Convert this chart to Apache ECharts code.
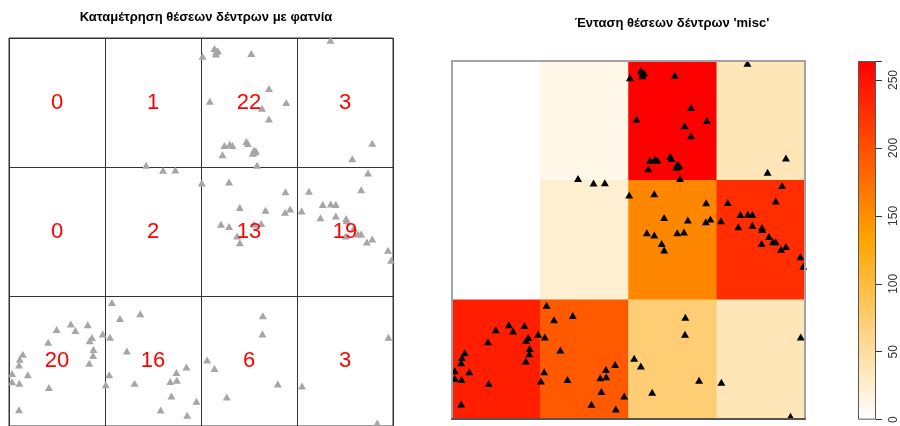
<!DOCTYPE html>
<html>
<head>
<meta charset="utf-8">
<script src="https://cdn.jsdelivr.net/npm/echarts@6/dist/echarts.min.js"></script>
<style>html,body{margin:0;padding:0;background:#fff}#c{width:900px;height:426px}</style>
</head>
<body>
<div id="c"></div>
<script>
// Quadrat counts (rows from top to bottom, columns from left to right)
const quadratCounts = [
  [0, 1, 22, 3],
  [0, 2, 13, 19],
  [20, 16, 6, 3]
];
const nCols = 4, nRows = 3;
const windowArea = 1; // unit square window
const colourbarTicks = [0, 50, 100, 150, 200, 250];
const titleLeft = 'Καταμέτρηση θέσεων δέντρων με φατνία';
const titleRight = "Ένταση θέσεων δέντρων 'misc'";

// Tree locations in the unit window
const treeX = [
  0.504,0.535,0.544,0.539,0.631,0.677,0.523,0.722,0.659,0.677,0.561,0.575,0.582,0.618,0.622,0.638,0.643,0.635,0.556,0.646,0.540,0.640,
  0.837,0.946,0.894,
  0.357,
  0.401,0.433,
  0.502,0.573,0.720,0.601,0.668,0.719,0.732,0.552,0.573,0.638,0.657,0.594,0.601,
  0.935,0.917,0.781,0.817,0.838,0.851,0.762,0.811,0.851,0.878,0.879,0.898,0.877,0.909,0.917,0.932,0.946,0.987,0.995,
  0.124,0.161,0.173,0.205,0.216,0.210,0.102,0.220,0.219,0.209,0.036,0.028,0.026,0.008,0.049,0.008,0.027,0.104,0.026,0.244,
  0.268,0.342,0.289,0.263,0.307,0.261,0.252,0.327,0.462,0.436,0.420,0.437,0.423,0.488,0.395,0.464,
  0.661,0.660,0.516,0.535,0.700,0.567,
  0.988,0.763,0.959
];
const treeY = [
  0.953,0.973,0.967,0.959,0.960,0.870,0.837,0.834,0.819,0.791,0.723,0.726,0.723,0.733,0.728,0.711,0.709,0.703,0.699,0.672,0.965,0.706,
  0.994,0.729,0.689,
  0.672,
  0.659,0.660,
  0.626,0.629,0.604,0.563,0.556,0.551,0.559,0.520,0.514,0.520,0.522,0.490,0.472,
  0.652,0.609,0.605,0.571,0.572,0.571,0.554,0.537,0.541,0.535,0.529,0.510,0.490,0.495,0.495,0.474,0.482,0.453,0.427,
  0.249,0.263,0.246,0.261,0.228,0.220,0.216,0.197,0.182,0.162,0.185,0.172,0.157,0.135,0.132,0.114,0.110,0.099,0.042,0.237,
  0.318,0.289,0.277,0.229,0.193,0.132,0.106,0.110,0.152,0.138,0.115,0.118,0.077,0.064,0.041,0.028,
  0.284,0.237,0.170,0.148,0.108,0.075,
  0.229,0.103,0.008
];

const quadratArea = windowArea / (nCols * nRows);
const points = treeX.map((x, i) => [x, treeY[i]]);
const labelData = [];
const heatData = [];
let maxIntensity = 0;
quadratCounts.forEach((row, r) => {
  row.forEach((c, k) => {
    labelData.push([(k + 0.5) / nCols, 1 - (r + 0.5) / nRows, c]);
    const inten = c / quadratArea;
    maxIntensity = Math.max(maxIntensity, inten);
    heatData.push([k, nRows - 1 - r, inten]);
  });
});

const FONT = 'Liberation Sans, Arial, Helvetica, sans-serif';
const rampColors = ['#FFFFFF', '#FFA500', '#FF0000'];
const chart = echarts.init(document.getElementById('c'), null, {renderer: 'canvas'});
const hidden = {show: false};
const frameAxis = (extra) => Object.assign({
  type: 'value', min: 0, max: 1, gridIndex: 2, z: 10,
  axisTick: hidden, axisLabel: hidden, splitLine: hidden,
  axisLine: {show: true, onZero: false, lineStyle: {color: '#a3a3a3', width: 2}}
}, extra);

chart.setOption({
  animation: false,
  backgroundColor: '#ffffff',
  title: [
    {text: titleLeft, left: 201, top: 6, textAlign: 'center',
     textStyle: {fontFamily: FONT, fontSize: 13, fontWeight: 'bold', color: '#000'}},
    {text: titleRight, left: 667, top: 12, textAlign: 'center',
     textStyle: {fontFamily: FONT, fontSize: 13, fontWeight: 'bold', color: '#000'}}
  ],
  grid: [
    {left: 9, top: 38, width: 384, height: 390, show: true, borderColor: '#333', borderWidth: 1, backgroundColor: 'transparent'},
    {left: 452, top: 61, width: 353, height: 358},
    {left: 452, top: 61, width: 353, height: 358},
    {left: 858, top: 61, width: 18, height: 359}
  ],
  xAxis: [
    {type: 'value', gridIndex: 0, min: 0, max: 1, interval: 1 / nCols,
     axisLine: hidden, axisTick: hidden, axisLabel: hidden,
     splitLine: {show: true, lineStyle: {color: '#333', width: 1}}},
    {type: 'category', gridIndex: 1, data: [0, 1, 2, 3], show: false},
    frameAxis({position: 'bottom', axisLine: {show: true, onZero: false, lineStyle: {color: '#555', width: 2}}}),
    frameAxis({position: 'top'}),
    {type: 'category', gridIndex: 3, data: [''], show: false}
  ],
  yAxis: [
    {type: 'value', gridIndex: 0, min: 0, max: 1, interval: 1 / nRows,
     axisLine: hidden, axisTick: hidden, axisLabel: hidden,
     splitLine: {show: true, lineStyle: {color: '#333', width: 1}}},
    {type: 'category', gridIndex: 1, data: [0, 1, 2], show: false},
    frameAxis({position: 'left'}),
    frameAxis({position: 'right'}),
    {type: 'value', gridIndex: 3, position: 'right', min: 0, max: maxIntensity, interval: 50,
     axisLine: hidden, splitLine: hidden,
     axisTick: {show: true, length: 6, lineStyle: {color: '#333'}},
     axisLabel: {show: true, rotate: 90, margin: 12, fontFamily: FONT, fontSize: 12, color: '#333',
       formatter: v => colourbarTicks.indexOf(v) >= 0 ? String(v) : ''}}
  ],
  visualMap: {
    type: 'continuous', show: false, min: 0, max: maxIntensity, seriesIndex: 2,
    inRange: {color: rampColors}
  },
  series: [
    {type: 'scatter', xAxisIndex: 0, yAxisIndex: 0, data: points, symbol: 'triangle',
     symbolSize: [8, 7], itemStyle: {color: '#a6a6a6', opacity: 1}, silent: true, z: 3},
    {type: 'scatter', xAxisIndex: 0, yAxisIndex: 0, data: labelData, symbolSize: 0, silent: true, z: 4,
     itemStyle: {opacity: 1},
     label: {show: true, position: 'inside', formatter: p => String(p.data[2]), opacity: 1,
       fontFamily: FONT, fontSize: 22, color: '#ff0000'}},
    {type: 'heatmap', xAxisIndex: 1, yAxisIndex: 1, data: heatData, silent: true,
     itemStyle: {borderWidth: 0}, emphasis: {disabled: true}},
    {type: 'scatter', xAxisIndex: 2, yAxisIndex: 2, data: points, symbol: 'triangle',
     symbolSize: [8, 7], itemStyle: {color: '#000', opacity: 1}, silent: true, z: 5},
    {type: 'bar', xAxisIndex: 4, yAxisIndex: 4, data: [maxIntensity], barWidth: '100%', silent: true,
     itemStyle: {
       color: new echarts.graphic.LinearGradient(0, 1, 0, 0, [
         {offset: 0, color: rampColors[0]}, {offset: 0.5, color: rampColors[1]}, {offset: 1, color: rampColors[2]}
       ]),
       borderColor: '#555', borderWidth: 1
     }}
  ]
});
</script>
</body>
</html>
